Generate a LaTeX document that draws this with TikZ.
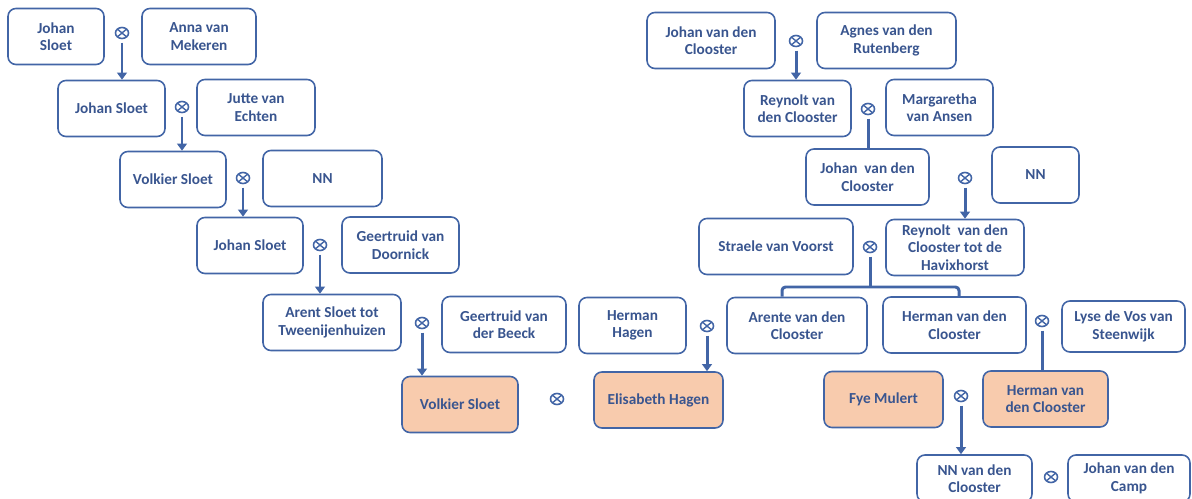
\documentclass[tikz,border=0pt]{standalone}
\usepackage{fontspec}
\setmainfont{Carlito}
\usetikzlibrary{arrows.meta,shapes.geometric}
\definecolor{boxblue}{RGB}{66,101,166}
\definecolor{txtblue}{RGB}{57,85,143}
\definecolor{peach}{HTML}{F8CBAD}
\tikzset{
  box/.style={draw=boxblue, line width=0.9pt, rounded corners=4.5pt, fill=white,
    minimum height=1.12cm, inner sep=1pt, align=center, text=txtblue},
  kid/.style={box, fill=peach},
  huw/.style={ellipse, draw=boxblue, line width=0.9pt, minimum width=0.26cm, minimum height=0.22cm,
    inner sep=0pt, outer sep=2.4pt,
    path picture={\draw[boxblue, line width=0.8pt]
      (path picture bounding box.north west) -- (path picture bounding box.south east)
      (path picture bounding box.north east) -- (path picture bounding box.south west);}},
  conn/.style={draw=boxblue, line width=1.7pt},
  arr/.style={conn, -{Triangle[width=5.5pt,length=4pt]}}
}
\begin{document}
\begin{tikzpicture}[x=0.02cm, y=-0.02cm, font=\fontsize{8.7}{10}\selectfont\bfseries, line join=round]
\useasboundingbox (0,0) rectangle (1192,499);
% Sloet
\node[box, minimum width=1.92cm] (j1) at (56,36.5) {Johan\\Sloet};
\node[box, minimum width=2.28cm] (a1) at (199,36.5) {Anna van\\Mekeren};
\node[huw] (m1) at (122,33) {};
\node[box, minimum width=2.14cm] (j2) at (111.5,108.5) {Johan Sloet};
\node[box, minimum width=2.36cm] (ju) at (256,107.5) {Jutte van\\Echten};
\node[huw] (m2) at (182,107) {};
\node[box, minimum width=2.12cm] (v1) at (173,179.5) {Volkier Sloet};
\node[box, minimum width=2.38cm] (nn1) at (322.5,178.5) {NN};
\node[huw] (m3) at (243,178) {};
\node[box, minimum width=2.12cm] (j3) at (250,245.5) {Johan Sloet};
\node[box, minimum width=2.34cm] (g1) at (400.5,245) {Geertruid van\\Doornick};
\node[huw] (m4) at (320,245) {};
\node[box, minimum width=2.76cm] (ar) at (332,322.5) {Arent Sloet tot\\Tweenijenhuizen};
\node[box, minimum width=2.48cm] (g2) at (504,324.5) {Geertruid van\\der Beeck};
\node[huw] (m5) at (422,323) {};
\node[kid, minimum width=2.32cm] (v2) at (460,404.5) {Volkier Sloet};
\node[huw] (m6) at (557,399) {};
% Hagen
\node[box, minimum width=2.14cm] (hh) at (632.5,325.5) {Herman\\Hagen};
\node[huw] (m7) at (707,326) {};
\node[kid, minimum width=2.58cm] (eh) at (658.5,400) {Elisabeth Hagen};
% van den Clooster
\node[box, minimum width=2.56cm] (jc1) at (711,40.5) {Johan van den\\Clooster};
\node[box, minimum width=2.78cm] (ag) at (886.5,40.5) {Agnes van den\\Rutenberg};
\node[huw] (m8) at (796,41) {};
\node[box, minimum width=2.14cm] (rc) at (797.5,108.5) {Reynolt van\\den Clooster};
\node[box, minimum width=2.14cm] (ma) at (939.5,107.5) {Margaretha\\van Ansen};
\node[huw] (m9) at (868,109) {};
\node[box, minimum width=2.46cm] (jc2) at (867.5,177) {Johan\ \ van den\\Clooster};
\node[box, minimum width=1.74cm] (nn2) at (1035.5,175) {NN};
\node[huw] (m10) at (965,178) {};
\node[box, minimum width=2.76cm] (rh) at (955,247.5) {Reynolt\ \ van den\\Clooster tot de\\Havixhorst};
\node[box, minimum width=3.08cm] (sv) at (776,246.5) {Straele van Voorst};
\node[huw] (m11) at (870,247) {};
\node[box, minimum width=2.80cm] (ac) at (797,325.5) {Arente van den\\Clooster};
\node[box, minimum width=2.86cm] (hc) at (954.5,325) {Herman van den\\Clooster};
\node[box, minimum width=2.46cm, minimum height=1.02cm] (ly) at (1123.5,326.5) {Lyse de Vos van\\Steenwijk};
\node[huw] (m12) at (1042,321) {};
\node[kid, minimum width=2.50cm] (hc2) at (1045.5,399) {Herman van\\den Clooster};
\node[kid, minimum width=2.38cm] (fm) at (883.5,399.5) {Fye Mulert};
\node[huw] (m13) at (961,396) {};
\node[box, minimum width=2.30cm, minimum height=0.94cm] (nc) at (974.5,478.5) {NN van den\\Clooster};
\node[box, minimum width=2.44cm, minimum height=0.94cm] (jv) at (1129,478.5) {Johan van den\\Camp};
\node[huw] (m14) at (1051,477) {};
% lines
\draw[arr] (m1.south) -- (m1 |- j2.north);
\draw[arr] (m2.south) -- (m2 |- v1.north);
\draw[arr] (m3.south) -- (m3 |- j3.north);
\draw[arr] (m4.south) -- (m4 |- ar.north);
\draw[arr] (m5.south) -- (m5 |- v2.north);
\draw[arr] (m7.south) -- (m7 |- eh.north);
\draw[arr] (m8.south) -- (m8 |- rc.north);
\draw[conn] (m9.south) -- (m9 |- jc2.north);
\draw[arr] (m10.south) -- (m10 |- rh.north);
\coordinate (br) at (870,287);
\draw[conn] (m11.south) -- (br);
\draw[conn, rounded corners=2pt] ([xshift=-0.3cm]ac.north) |- (br) -| ([xshift=0.09cm]hc.north);
\draw[conn] (m12.south) -- (m12 |- hc2.north);
\draw[arr] (m13.south) -- (m13 |- nc.north);
\end{tikzpicture}
\end{document}
